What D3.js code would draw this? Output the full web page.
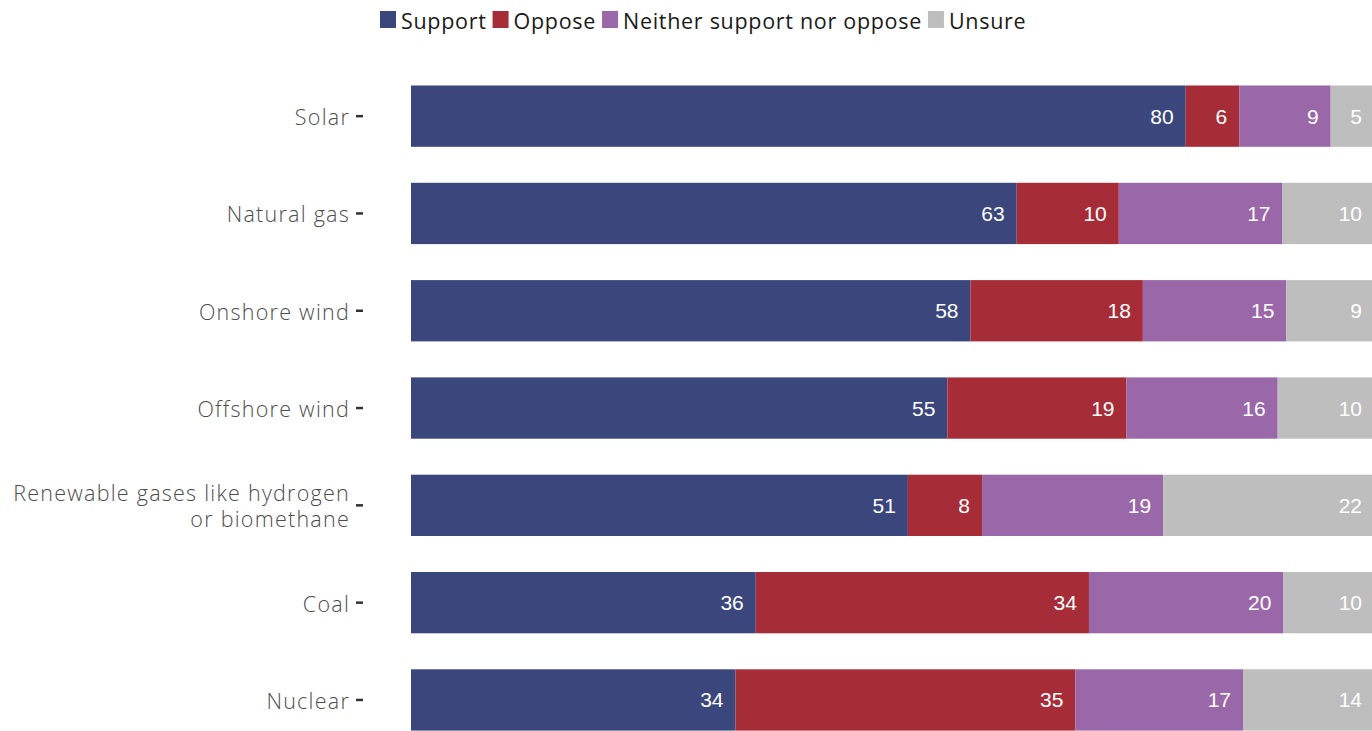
<!DOCTYPE html>
<html><head><meta charset="utf-8">
<script src="https://cdn.jsdelivr.net/npm/d3@7"></script>
<style>
body{margin:0;background:#fff;overflow:hidden}
svg{display:block}
</style></head>
<body>
<svg id="chart" width="1372" height="731"></svg>
<script>
const categories = ["Solar","Natural gas","Onshore wind","Offshore wind","Renewable gases like hydrogen\nor biomethane","Coal","Nuclear"];
const seriesNames = ["Support","Oppose","Neither support nor oppose","Unsure"];
const support = [80.45, 62.9, 58.1, 55.7, 51.6, 35.8, 33.7];
const oppose  = [5.55, 10.6, 17.9, 18.6, 7.7, 34.6, 35.3];
const neither = [9.5, 17.0, 14.9, 15.7, 18.8, 20.2, 17.4];
const unsure  = [4.5, 9.5, 9.1, 10.0, 21.9, 9.4, 13.6];
const labelSupport = [80, 63, 58, 55, 51, 36, 34];
const labelOppose  = [6, 10, 18, 19, 8, 34, 35];
const labelNeither = [9, 17, 15, 16, 19, 20, 17];
const labelUnsure  = [5, 10, 9, 10, 22, 10, 14];
const colors = ["#3a467c","#a62d37","#9a67a8","#bebebe"];

const seriesVals = [support, oppose, neither, unsure];
const seriesLabels = [labelSupport, labelOppose, labelNeither, labelUnsure];

const svg = d3.select("#chart");
const x = d3.scaleLinear().domain([0,100]).range([411,1374]);
const y = d3.scaleBand().domain(categories).range([67.5,748.6]).paddingInner(0.37).paddingOuter(0.185);

const rows = categories.map((c,i)=>{
  let cum = 0;
  return seriesVals.map((s,k)=>{
    const d = {cat:c, k, x0:cum, x1:cum+s[i], label:seriesLabels[k][i]};
    cum += s[i];
    return d;
  });
}).flat();

svg.append("g").selectAll("rect").data(rows).join("rect")
  .attr("x", d=>x(d.x0)).attr("width", d=>x(d.x1)-x(d.x0))
  .attr("y", d=>y(d.cat)).attr("height", y.bandwidth())
  .attr("fill", d=>colors[d.k]);

svg.append("g").selectAll("text").data(rows).join("text")
  .attr("x", d=>x(d.x1)-12).attr("y", d=>y(d.cat)+y.bandwidth()/2)
  .attr("text-anchor","end").attr("dominant-baseline","central")
  .attr("fill","#fff").attr("font-family","'Liberation Sans', Arial, sans-serif")
  .attr("font-size",21).text(d=>d.label);

const labelFont = "'Open Sans', Lato, sans-serif";

// y axis
const yAxis = d3.axisLeft(y).tickSize(7).tickPadding(6);
const ag = svg.append("g").attr("transform","translate(363,0)").call(yAxis);
ag.select(".domain").remove();
ag.selectAll(".tick line").attr("stroke","#333").attr("stroke-width",2.5);
ag.selectAll(".tick text").attr("font-family",labelFont).attr("font-weight",300)
  .attr("font-size",21.5).attr("fill","#4d4d4d").attr("letter-spacing","1.25px")
  .attr("dy","0.42em")
  .each(function(d){
    const lines = d.split("\n");
    const t = d3.select(this).text(null);
    if(lines.length===1){ t.text(d); }
    else {
      lines.forEach((ln,j)=>{
        t.append("tspan").attr("x",-13).attr("dy", j===0 ? "-0.2em" : "1.22em").text(ln);
      });
    }
  });

// legend
const lg = svg.append("g");
let lx = 380;
seriesNames.forEach((n,k)=>{
  lg.append("rect").attr("x",lx).attr("y",11).attr("width",16).attr("height",17).attr("fill",colors[k]);
  const t = lg.append("text").attr("x",lx+21).attr("y",20).attr("dominant-baseline","central")
    .attr("font-family",labelFont).attr("font-weight",400).attr("letter-spacing","0.7px")
    .attr("font-size",21.5).attr("fill","#1a1a1a").text(n);
  lx += 21 + t.node().getComputedTextLength() + 6;
});
</script>
</body></html>
